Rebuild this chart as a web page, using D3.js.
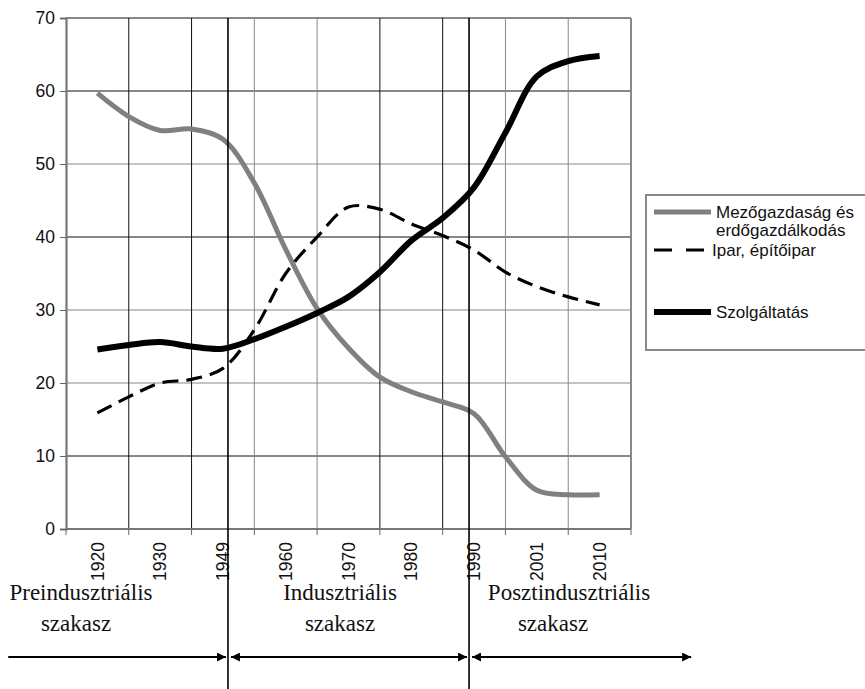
<!DOCTYPE html>
<html>
<head>
<meta charset="utf-8">
<script src="https://cdn.jsdelivr.net/npm/d3@7"></script>
<style>
  body { margin: 0; background: #fff; }
  svg { display: block; }
</style>
</head>
<body>
<div id="chart"></div>
<script>
// categories on the x axis (uneven years, evenly spaced)
const categories = ['1920', '1930', '1949', '1960', '1970', '1980', '1990', '2001', '2010'];
const yTicks = [0, 10, 20, 30, 40, 50, 60, 70];

// sample positions in category units (0 = first category centre)
const positions = [0, 0.5, 1, 1.5, 2, 2.5, 3, 3.5, 4, 4.5, 5, 5.5, 6, 6.5, 7, 7.5, 8];
const agriculture = [59.7, 56.5, 54.6, 54.8, 53.4, 47.4, 38.3, 30.2, 24.8, 20.8, 18.8, 17.4, 15.8, 9.9, 5.3, 4.7, 4.7];
const industry    = [15.9, 18.1, 20.0, 20.5, 22.0, 27.3, 35.0, 40.0, 44.1, 43.8, 41.8, 40.2, 38.2, 35.2, 33.2, 31.8, 30.7];
const services    = [24.6, 25.2, 25.6, 25.0, 24.7, 26.0, 27.7, 29.6, 31.8, 35.2, 39.5, 42.6, 46.8, 54.3, 62.0, 64.1, 64.8];

const seriesNames = ['Mezőgazdaság és\nerdőgazdálkodás', 'Ipar, építőipar', 'Szolgáltatás'];

// period boundaries (in category-edge units) and the arrows below the chart
const phaseBounds = [2.58, 6.42];
const phaseNames = [['Preindusztriális', 'szakasz'], ['Indusztriális', 'szakasz'], ['Posztindusztriális', 'szakasz']];
const phaseSpans = [[-0.92, 2.58], [2.58, 6.42], [6.42, 9.99]];

const sizes = {width: 865, height: 689, margin: {top: 18, right: 234, bottom: 160, left: 66}};
const sans = "'Liberation Sans', Arial, sans-serif";
const serif = "'Liberation Serif', 'Times New Roman', serif";
const labelSize = '17.5px';

const svg = d3.select('#chart').append('svg')
  .attr('width', sizes.width)
  .attr('height', sizes.height)
  .attr('viewBox', `0 0 ${sizes.width} ${sizes.height}`);

const x0 = sizes.margin.left, x1 = sizes.width - sizes.margin.right;
const y0 = sizes.height - sizes.margin.bottom, y1 = sizes.margin.top;

const xBand = d3.scaleBand().domain(categories).range([x0, x1]);
// continuous version of the same axis: 0..9 are category edges
const xEdge = d3.scaleLinear().domain([0, categories.length]).range([x0, x1]);
const y = d3.scaleLinear().domain([0, 70]).range([y0, y1]);

// gridlines: the scan shows some darker than others
const darkH = [10, 40, 60];
const darkV = [1, 2, 5, 6];

svg.append('g')
  .selectAll('line')
  .data(yTicks.filter(d => d > 0))
  .join('line')
    .attr('x1', x0).attr('x2', x1)
    .attr('y1', d => y(d)).attr('y2', d => y(d))
    .attr('stroke', d => darkH.includes(d) ? '#111' : '#888')
    .attr('stroke-width', d => d === 70 ? 2 : 1);

svg.append('g')
  .selectAll('line')
  .data(d3.range(1, categories.length + 1))
  .join('line')
    .attr('x1', d => xEdge(d)).attr('x2', d => xEdge(d))
    .attr('y1', y1).attr('y2', y0)
    .attr('stroke', d => darkV.includes(d) ? '#111' : '#888')
    .attr('stroke-width', d => d === categories.length ? 2 : 1);

// y axis
svg.append('g')
  .attr('transform', `translate(${x0},0)`)
  .call(d3.axisLeft(y).tickValues(yTicks).tickSize(6).tickPadding(5))
  .call(g => g.select('.domain').attr('stroke', '#777').attr('stroke-width', 2.2))
  .call(g => g.selectAll('.tick line').attr('stroke', '#666'))
  .call(g => g.selectAll('text')
    .style('font-family', sans).style('font-size', labelSize).attr('fill', '#111'));

// x axis: ticks on category edges, labels rotated
const xAxis = svg.append('g').attr('transform', `translate(0,${y0})`);
xAxis.append('line')
  .attr('x1', x0).attr('x2', x1).attr('y1', 0).attr('y2', 0)
  .attr('stroke', '#777').attr('stroke-width', 2.2);
xAxis.selectAll('.edge')
  .data(d3.range(0, categories.length + 1))
  .join('line')
    .attr('class', 'edge')
    .attr('x1', d => xEdge(d)).attr('x2', d => xEdge(d))
    .attr('y1', 0).attr('y2', 6)
    .attr('stroke', '#666');
xAxis.selectAll('text')
  .data(categories)
  .join('text')
    .text(d => d)
    .attr('transform', d => `translate(${xBand(d) + xBand.bandwidth() / 2},13) rotate(-90)`)
    .attr('dy', '0.35em')
    .style('text-anchor', 'end')
    .style('font-family', sans)
    .style('font-size', labelSize)
    .attr('fill', '#111');

// lines
const line = d3.line()
  .curve(d3.curveCatmullRom.alpha(0.5))
  .x(d => xEdge(d[0] + 0.5))
  .y(d => y(d[1]));

const styles = [
  {stroke: '#808080', width: 5, dash: null},
  {stroke: '#000', width: 3.2, dash: '16 8'},
  {stroke: '#000', width: 6, dash: null}
];
[agriculture, industry, services].forEach((vals, i) => {
  svg.append('path')
    .attr('fill', 'none')
    .attr('stroke', styles[i].stroke)
    .attr('stroke-width', styles[i].width)
    .attr('stroke-dasharray', styles[i].dash)
    .attr('d', line(positions.map((p, j) => [p, vals[j]])));
});

// period separators
svg.append('g')
  .selectAll('line')
  .data(phaseBounds)
  .join('line')
    .attr('x1', d => xEdge(d)).attr('x2', d => xEdge(d))
    .attr('y1', y1).attr('y2', sizes.height)
    .attr('stroke', '#000').attr('stroke-width', 1.6);

// legend
const legend = svg.append('g');
legend.append('rect')
  .attr('x', 646).attr('y', 195).attr('width', 240).attr('height', 155)
  .attr('fill', '#fff').attr('stroke', '#888').attr('stroke-width', 2);
const legendY = [212, 250, 312];
seriesNames.forEach((name, i) => {
  legend.append('line')
    .attr('x1', 654).attr('x2', i === 1 ? 704 : 711)
    .attr('y1', legendY[i]).attr('y2', legendY[i])
    .attr('stroke', styles[i].stroke)
    .attr('stroke-width', i === 1 ? 3 : styles[i].width)
    .attr('stroke-dasharray', i === 1 ? '18 14' : null);
  const lx = i === 1 ? 712 : 716;
  const t = legend.append('text')
    .attr('x', lx).attr('y', legendY[i])
    .style('font-family', sans).style('font-size', '17px').attr('fill', '#111');
  name.split('\n').forEach((part, k) => {
    t.append('tspan').attr('x', lx).attr('dy', k === 0 ? '0.35em' : '1.05em').text(part);
  });
});

// phase labels and arrows
const defs = svg.append('defs');
defs.append('marker')
  .attr('id', 'head').attr('viewBox', '0 0 10 10')
  .attr('refX', 10).attr('refY', 5)
  .attr('markerWidth', 4.5).attr('markerHeight', 4.5).attr('markerUnits', 'strokeWidth')
  .attr('orient', 'auto-start-reverse')
  .append('path').attr('d', 'M0,0 L10,5 L0,10 z').attr('fill', '#000');

const labelLayout = [
  {cx: 81, sub: 76},
  {cx: 340, sub: 340},
  {cx: 569, sub: 553}
];
phaseNames.forEach((lines, i) => {
  svg.append('text')
    .attr('x', labelLayout[i].cx).attr('y', 600)
    .style('text-anchor', 'middle').style('font-family', serif).style('font-size', '23px')
    .attr('fill', '#111')
    .text(lines[0]);
  svg.append('text')
    .attr('x', labelLayout[i].sub).attr('y', 631)
    .style('text-anchor', 'middle').style('font-family', serif).style('font-size', '23px')
    .attr('fill', '#111')
    .text(lines[1]);
});

svg.append('g')
  .selectAll('line')
  .data(phaseSpans)
  .join('line')
    .attr('x1', (d, i) => xEdge(d[0]) + (i === 0 ? 0 : 3))
    .attr('x2', d => xEdge(d[1]) - 2)
    .attr('y1', 657).attr('y2', 657)
    .attr('stroke', '#000').attr('stroke-width', 2)
    .attr('marker-end', 'url(#head)')
    .attr('marker-start', (d, i) => i === 0 ? null : 'url(#head)');
</script>
</body>
</html>
